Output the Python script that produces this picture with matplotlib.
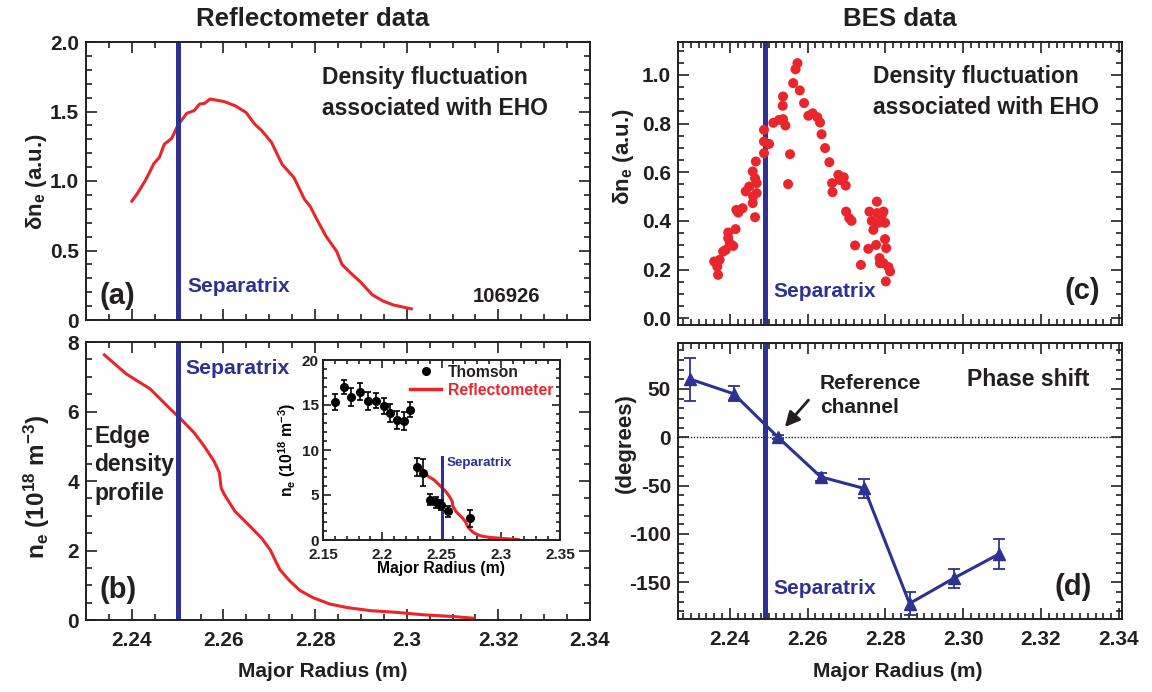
import matplotlib
matplotlib.use("Agg")
import matplotlib.pyplot as plt
from matplotlib.lines import Line2D
from matplotlib.ticker import AutoMinorLocator

# ---------------------------------------------------------------
# data
# ---------------------------------------------------------------
# (a) reflectometer density fluctuation
r_fluct = [2.2400, 2.2411, 2.2431, 2.2448, 2.2460, 2.2471, 2.2487, 2.2501, 2.2520,
           2.2536, 2.2548, 2.2559, 2.2571, 2.2602, 2.2625, 2.2649, 2.2668, 2.2684,
           2.2705, 2.2728, 2.2754, 2.2777, 2.2789, 2.2804, 2.2824, 2.2847, 2.2859,
           2.2878, 2.2898, 2.2925, 2.2948, 2.2971, 2.3010]
dn_fluct = [0.855, 0.904, 1.012, 1.125, 1.169, 1.265, 1.306, 1.405, 1.487,
            1.506, 1.554, 1.559, 1.590, 1.571, 1.542, 1.494, 1.410, 1.361,
            1.277, 1.120, 1.024, 0.867, 0.819, 0.723, 0.602, 0.494, 0.398,
            0.337, 0.277, 0.181, 0.137, 0.108, 0.080]

# (b) reflectometer edge density profile
r_prof = [2.2340, 2.2388, 2.2440, 2.2484, 2.2505, 2.2536, 2.2558, 2.2579, 2.2591,
          2.2595, 2.2602, 2.2625, 2.2654, 2.2683, 2.2702, 2.2723, 2.2745, 2.2767,
          2.2796, 2.2832, 2.2869, 2.2920, 2.2978, 2.3036, 2.3102, 2.3147]
ne_prof = [7.63, 7.08, 6.65, 6.07, 5.81, 5.39, 5.00, 4.58, 4.24,
           3.80, 3.61, 3.13, 2.75, 2.36, 2.02, 1.45, 1.12, 0.85,
           0.64, 0.46, 0.36, 0.27, 0.22, 0.15, 0.10, 0.05]

# inset: Thomson scattering
r_ts = [2.1599, 2.1675, 2.1740, 2.1814, 2.1876, 2.1944, 2.2011, 2.2062, 2.2124,
        2.2186, 2.2237, 2.2294, 2.2345, 2.2401, 2.2452, 2.2495, 2.2554, 2.2740]
ne_ts = [15.3, 17.0, 15.9, 16.5, 15.5, 15.5, 14.9, 14.1, 13.3,
         13.2, 14.5, 8.1, 7.5, 4.5, 4.2, 3.9, 3.2, 2.4]
ne_ts_err = [0.9, 0.8, 1.0, 0.9, 1.0, 0.8, 0.9, 1.0, 1.0,
             1.0, 0.8, 1.0, 1.5, 0.6, 0.6, 0.6, 0.6, 0.9]

# (c) BES density fluctuation
r_bes = [2.2360, 2.2368, 2.2370, 2.2374, 2.2383, 2.2390, 2.2396, 2.2396, 2.2400,
         2.2409, 2.2415, 2.2417, 2.2422, 2.2433, 2.2441, 2.2450, 2.2459, 2.2459,
         2.2460, 2.2465, 2.2465, 2.2467, 2.2469, 2.2469, 2.2488, 2.2488, 2.2488,
         2.2501, 2.2512, 2.2527, 2.2537, 2.2543, 2.2537, 2.2536, 2.2555, 2.2550,
         2.2563, 2.2569, 2.2574, 2.2580, 2.2591, 2.2602, 2.2613, 2.2625, 2.2632,
         2.2636, 2.2645, 2.2656, 2.2663, 2.2664, 2.2679, 2.2683, 2.2693, 2.2698,
         2.2699, 2.2707, 2.2713, 2.2722, 2.2737, 2.2759, 2.2756, 2.2765, 2.2769,
         2.2776, 2.2778, 2.2779, 2.2782, 2.2785, 2.2786, 2.2791, 2.2795, 2.2795,
         2.2799, 2.2799, 2.2802, 2.2801, 2.2808, 2.2812]
dn_bes = [0.233, 0.212, 0.178, 0.240, 0.274, 0.281, 0.329, 0.352, 0.308,
          0.297, 0.366, 0.445, 0.434, 0.452, 0.521, 0.541, 0.473, 0.603,
          0.500, 0.575, 0.415, 0.644, 0.555, 0.514, 0.774, 0.726, 0.678,
          0.716, 0.803, 0.815, 0.818, 0.792, 0.911, 0.873, 0.674, 0.551,
          0.966, 1.023, 1.048, 0.936, 0.884, 0.832, 0.842, 0.826, 0.804,
          0.756, 0.699, 0.641, 0.555, 0.518, 0.589, 0.568, 0.579, 0.545,
          0.438, 0.411, 0.400, 0.299, 0.219, 0.438, 0.285, 0.400, 0.363,
          0.301, 0.479, 0.432, 0.392, 0.247, 0.226, 0.425, 0.438, 0.226,
          0.392, 0.325, 0.288, 0.151, 0.210, 0.192]

# (d) BES phase shift
r_phase = [2.2299, 2.2410, 2.2524, 2.2634, 2.2746, 2.2862, 2.2975, 2.3091]
phase = [60, 45, 0, -41, -53, -172, -146, -121]
phase_err = [22, 7.6, 2, 4.3, 10, 12, 10, 15.5]

r_sep_refl = 2.25
r_sep_bes = 2.249

ticks_ab_y = [0, 0.5, 1.0, 1.5, 2.0]
labels_ab_y = ['0', '0.5', '1.0', '1.5', '2.0']
ticks_b_y = [0, 2, 4, 6, 8]
ticks_b_x = [2.24, 2.26, 2.28, 2.30, 2.32, 2.34]
labels_b_x = ['2.24', '2.26', '2.28', '2.3', '2.32', '2.34']
ticks_c_y = [0.0, 0.2, 0.4, 0.6, 0.8, 1.0]
labels_c_y = ['0.0', '0.2', '0.4', '0.6', '0.8', '1.0']
ticks_d_y = [-150, -100, -50, 0, 50]
labels_d_x = ['2.24', '2.26', '2.28', '2.30', '2.32', '2.34']
ticks_in_x = [2.15, 2.20, 2.25, 2.30, 2.35]
labels_in_x = ['2.15', '2.2', '2.25', '2.3', '2.35']
ticks_in_y = [0, 5, 10, 15, 20]

# ---------------------------------------------------------------
# style
# ---------------------------------------------------------------
FONT = 'Liberation Sans'
plt.rcParams['font.family'] = [FONT, 'DejaVu Sans']
plt.rcParams['font.weight'] = 'bold'
plt.rcParams['axes.unicode_minus'] = False
plt.rcParams['mathtext.fontset'] = 'custom'
plt.rcParams['mathtext.rm'] = FONT + ':bold'
plt.rcParams['mathtext.it'] = FONT + ':bold'
plt.rcParams['mathtext.bf'] = FONT + ':bold'

RED = '#e8262b'
BLUE = '#2e3192'
INK = '#231f20'

W, H = 1152, 692


def box(l, t, r, b):
    # pixel box -> figure fraction
    return [l / W, 1 - b / H, (r - l) / W, (b - t) / H]


def style(ax, xminor, yminor, size=15, major=8, minor=4, xpad=8, ypad=5):
    ax.tick_params(which='both', direction='in', top=True, right=True,
                   width=1.2, colors=INK, labelsize=size)
    ax.tick_params(axis='x', pad=xpad)
    ax.tick_params(axis='y', pad=ypad)
    ax.tick_params(which='major', length=major)
    ax.tick_params(which='minor', length=minor)
    ax.xaxis.set_minor_locator(AutoMinorLocator(xminor))
    ax.yaxis.set_minor_locator(AutoMinorLocator(yminor))
    for s in ax.spines.values():
        s.set_linewidth(1.4)
        s.set_color(INK)
    for lab in ax.get_xticklabels() + ax.get_yticklabels():
        lab.set_fontweight('bold')


def note(ax, x, y, s, size=16.5, color=INK, **kw):
    ax.text(x, y, s, transform=ax.transAxes, fontweight='bold',
            fontsize=size, color=color, **kw)


fig = plt.figure(figsize=(W / 100, H / 100), dpi=100)

ax_a = fig.add_axes(box(86, 42, 590, 320))
ax_b = fig.add_axes(box(86, 342, 590, 620))
ax_c = fig.add_axes(box(678, 42, 1122, 325))
ax_d = fig.add_axes(box(678, 343, 1122, 619))
ax_in = fig.add_axes(box(323, 360, 560, 540))

# (a)
ax_a.plot(r_fluct, dn_fluct, color=RED, lw=2.2)
ax_a.axvline(r_sep_refl, color=BLUE, lw=3.6)
ax_a.set_xlim(2.23, 2.34)
ax_a.set_ylim(0, 2.0)
ax_a.set_xticks(ticks_b_x)
ax_a.set_xticklabels([])
ax_a.set_yticks(ticks_ab_y)
ax_a.set_yticklabels(labels_ab_y)
style(ax_a, 4, 5)
note(ax_a, 0.468, 0.818, 'Density fluctuation\nassociated with EHO', va='center', linespacing=1.45)
note(ax_a, 0.026, 0.086, '(a)', size=21, va='center')
note(ax_a, 0.202, 0.119, 'Separatrix', size=15, color=BLUE, va='center')
note(ax_a, 0.901, 0.083, '106926', size=14.6, ha='right', va='center')

# (b)
ax_b.plot(r_prof, ne_prof, color=RED, lw=2.2)
ax_b.axvline(r_sep_refl, color=BLUE, lw=3.6)
ax_b.set_xlim(2.23, 2.34)
ax_b.set_ylim(0, 8)
ax_b.set_xticks(ticks_b_x)
ax_b.set_xticklabels(labels_b_x)
ax_b.set_yticks(ticks_b_y)
style(ax_b, 4, 4)
note(ax_b, 0.198, 0.906, 'Separatrix', size=15.3, color=BLUE, va='center')
note(ax_b, 0.016, 0.558, 'Edge\ndensity\nprofile', va='center', linespacing=1.3)
note(ax_b, 0.026, 0.108, '(b)', size=21, va='center')

# inset
ax_in.plot(r_prof, ne_prof, color=RED, lw=2.2, zorder=2)
ax_in.errorbar(r_ts, ne_ts, yerr=ne_ts_err, fmt='o', color='black', ms=5.5,
               elinewidth=1.2, capsize=2.5, capthick=1.2, zorder=3)
ax_in.plot([r_sep_refl, r_sep_refl], [0, 9.2], color=BLUE, lw=2.2, zorder=2.5)
ax_in.set_xlim(2.15, 2.35)
ax_in.set_ylim(0, 20)
ax_in.set_xticks(ticks_in_x)
ax_in.set_xticklabels(labels_in_x)
ax_in.set_yticks(ticks_in_y)
style(ax_in, 5, 5, size=11, major=6, minor=3, xpad=6, ypad=3)
note(ax_in, 0.52, 0.428, 'Separatrix', size=9.6, color=BLUE, va='center')
proxies = [Line2D([], [], ls='none', marker='o', color='black', ms=5.5),
           Line2D([], [], color=RED, lw=2.5)]
leg = ax_in.legend(proxies, ['Thomson', 'Reflectometer'], loc='upper right',
                   bbox_to_anchor=(0.99, 1.0), frameon=False, handlelength=2.0,
                   handletextpad=0.4, labelspacing=0.2, borderaxespad=0.1,
                   borderpad=0.2, prop={'weight': 'bold', 'size': 11.3})
for txt, c in zip(leg.get_texts(), [INK, RED]):
    txt.set_color(c)
ax_in.set_xlabel('Major Radius (m)', fontweight='bold', fontsize=11.3, labelpad=-1)
ax_in.set_ylabel(r'n$_\mathregular{e}$ (10$^\mathregular{18}$ m$^\mathregular{-3}$)',
                 fontweight='bold', fontsize=11.3, labelpad=3)

# (c)
ax_c.scatter(r_bes, dn_bes, s=52, color=RED, edgecolors='none', zorder=3)
ax_c.axvline(r_sep_bes, color=BLUE, lw=3.6, zorder=2)
ax_c.set_xlim(2.2267, 2.3408)
ax_c.set_ylim(-0.028, 1.135)
ax_c.set_xticks(ticks_b_x)
ax_c.set_xticklabels([])
ax_c.set_yticks(ticks_c_y)
ax_c.set_yticklabels(labels_c_y)
style(ax_c, 10, 4)
note(ax_c, 0.439, 0.822, 'Density fluctuation\nassociated with EHO', va='center', linespacing=1.45)
note(ax_c, 0.214, 0.117, 'Separatrix', size=15, color=BLUE, va='center')
note(ax_c, 0.95, 0.12, '(c)', size=21, ha='right', va='center')

# (d)
ax_d.axhline(0, color=INK, lw=1.0, ls=(0, (1, 1.2)))
ax_d.axvline(r_sep_bes, color=BLUE, lw=3.6)
ax_d.errorbar(r_phase, phase, yerr=phase_err, fmt='-^', color=BLUE, lw=2.2, ms=8,
              elinewidth=1.3, capsize=4, capthick=1.3, zorder=3)
ax_d.set_xlim(2.2267, 2.3408)
ax_d.set_ylim(-188, 97.5)
ax_d.set_xticks(ticks_b_x)
ax_d.set_xticklabels(labels_d_x)
ax_d.set_yticks(ticks_d_y)
style(ax_d, 10, 5)
note(ax_d, 0.651, 0.866, 'Phase shift', size=16.6, va='center')
note(ax_d, 0.32, 0.81, 'Reference\nchannel', size=15, va='center', linespacing=1.35)
ax_d.annotate('', xy=(2.2537, 8.5), xytext=(2.2607, 40.6),
              arrowprops=dict(arrowstyle='-|>', color=INK, lw=2.0, mutation_scale=22))
note(ax_d, 0.214, 0.112, 'Separatrix', size=15, color=BLUE, va='center')
note(ax_d, 0.932, 0.116, '(d)', size=21, ha='right', va='center')

# titles and axis labels
fig.text(0.271, 0.972, 'Reflectometer data', ha='center', va='center',
         fontweight='bold', fontsize=18.6, color=INK)
fig.text(0.781, 0.972, 'BES data', ha='center', va='center',
         fontweight='bold', fontsize=18.6, color=INK)
lab = dict(fontweight='bold', fontsize=16, color=INK, ha='center', va='center')
fig.text(0.032, 0.737, r'δn$_\mathregular{e}$ (a.u.)', rotation=90, **lab)
fig.text(0.032, 0.296, r'n$_\mathregular{e}$ (10$^\mathregular{18}$ m$^\mathregular{-3}$)',
         rotation=90, **{**lab, 'fontsize': 17.5})
fig.text(0.541, 0.774, r'δn$_\mathregular{e}$ (a.u.)', rotation=90, **lab)
fig.text(0.543, 0.360, '(degrees)', rotation=90, **lab)
fig.text(0.28, 0.029, 'Major Radius (m)', **{**lab, 'fontsize': 15})
fig.text(0.779, 0.029, 'Major Radius (m)', **{**lab, 'fontsize': 15})

fig.savefig('out.png', dpi=100)
